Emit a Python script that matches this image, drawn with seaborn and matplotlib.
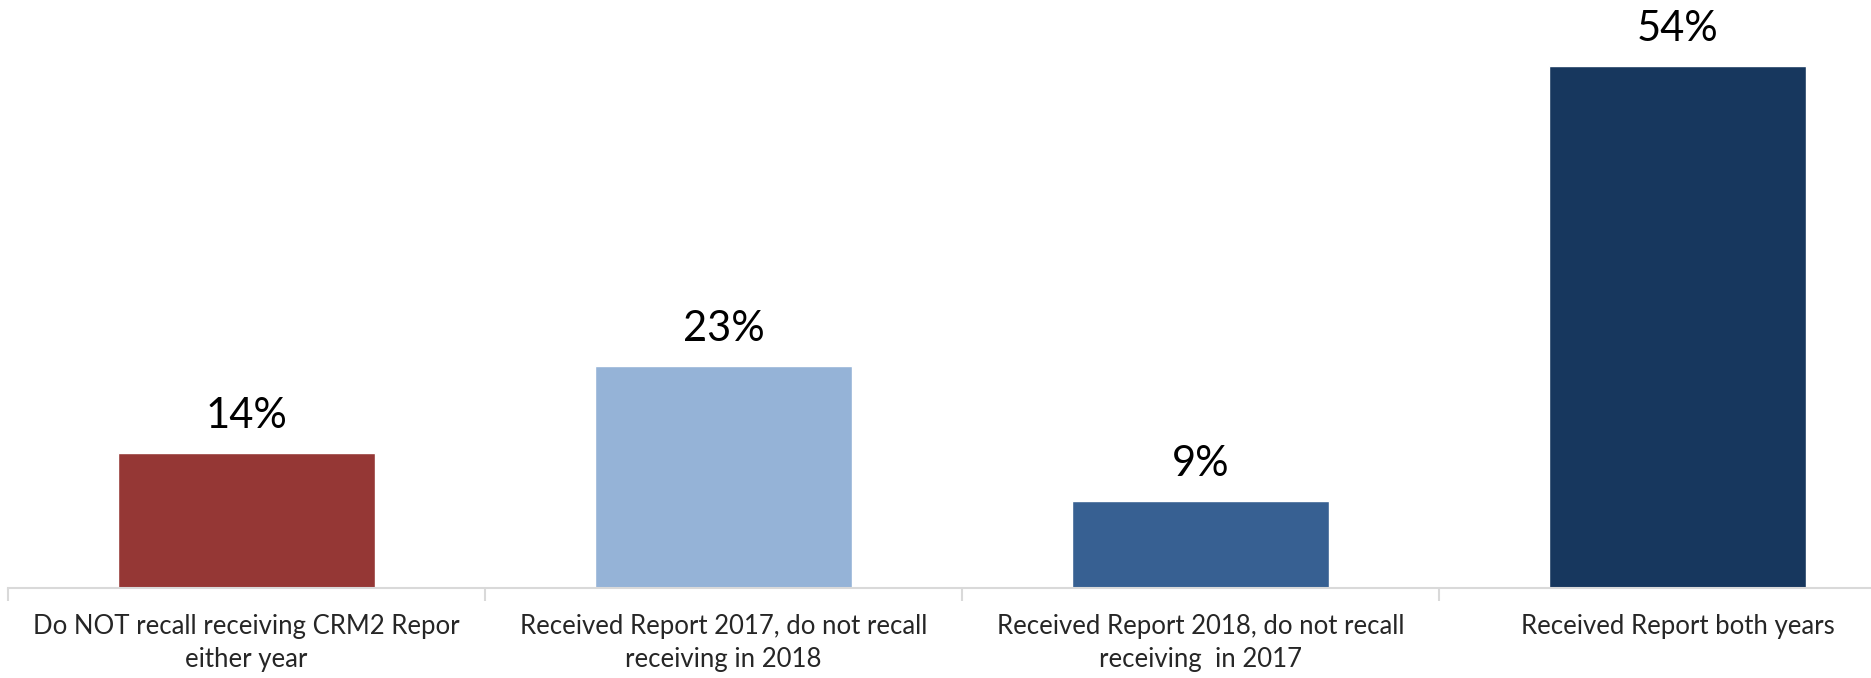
import matplotlib
matplotlib.use("Agg")
import matplotlib.pyplot as plt
import seaborn as sns
import pandas as pd

# Chart data
categories = [
    "Do NOT recall receiving CRM2 Repor\neither year",
    "Received Report 2017, do not recall\nreceiving in 2018",
    "Received Report 2018, do not recall\nreceiving  in 2017",
    "Received Report both years",
]
shares = [14, 23, 9, 54]
bar_colors = ["#953735", "#95B3D7", "#376092", "#17375E"]

df = pd.DataFrame({"category": categories, "share": shares})

sns.set_theme(style="white")
plt.rcParams["font.family"] = ["Lato", "DejaVu Sans"]

fig = plt.figure(figsize=(18.71, 6.78), dpi=100)
ax = fig.add_axes([8 / 1871, 90 / 678, 1908 / 1871, 588 / 678])

sns.barplot(data=df, x="category", y="share", hue="category",
            palette=bar_colors, legend=False, width=0.54, saturation=1, ax=ax)

ax.set_ylim(0, 60.8)
ax.set_xlim(-0.5, 3.5)

# Value labels
for i, v in enumerate(shares):
    ax.annotate(f"{v}%", (i, v), xytext=(0, 13), textcoords="offset points",
                ha="center", va="bottom", fontsize=30, color="black")

# Axes styling
for side in ["top", "right", "left"]:
    ax.spines[side].set_visible(False)
ax.spines["bottom"].set_color("#D9D9D9")
ax.spines["bottom"].set_linewidth(1.5)
ax.set_yticks([])
ax.set_xlabel("")
ax.set_ylabel("")
ax.set_xticks(range(len(categories)))
ax.set_xticklabels(categories, fontsize=18.5, linespacing=1.4)
ax.tick_params(axis="x", which="major", length=0, pad=19)
ax.set_xticks([-0.5, 0.5, 1.5, 2.5, 3.5], minor=True)
ax.tick_params(axis="x", which="minor", length=9, width=1.5, color="#D9D9D9",
               direction="out", bottom=True)

fig.savefig("out.png", dpi=100)
